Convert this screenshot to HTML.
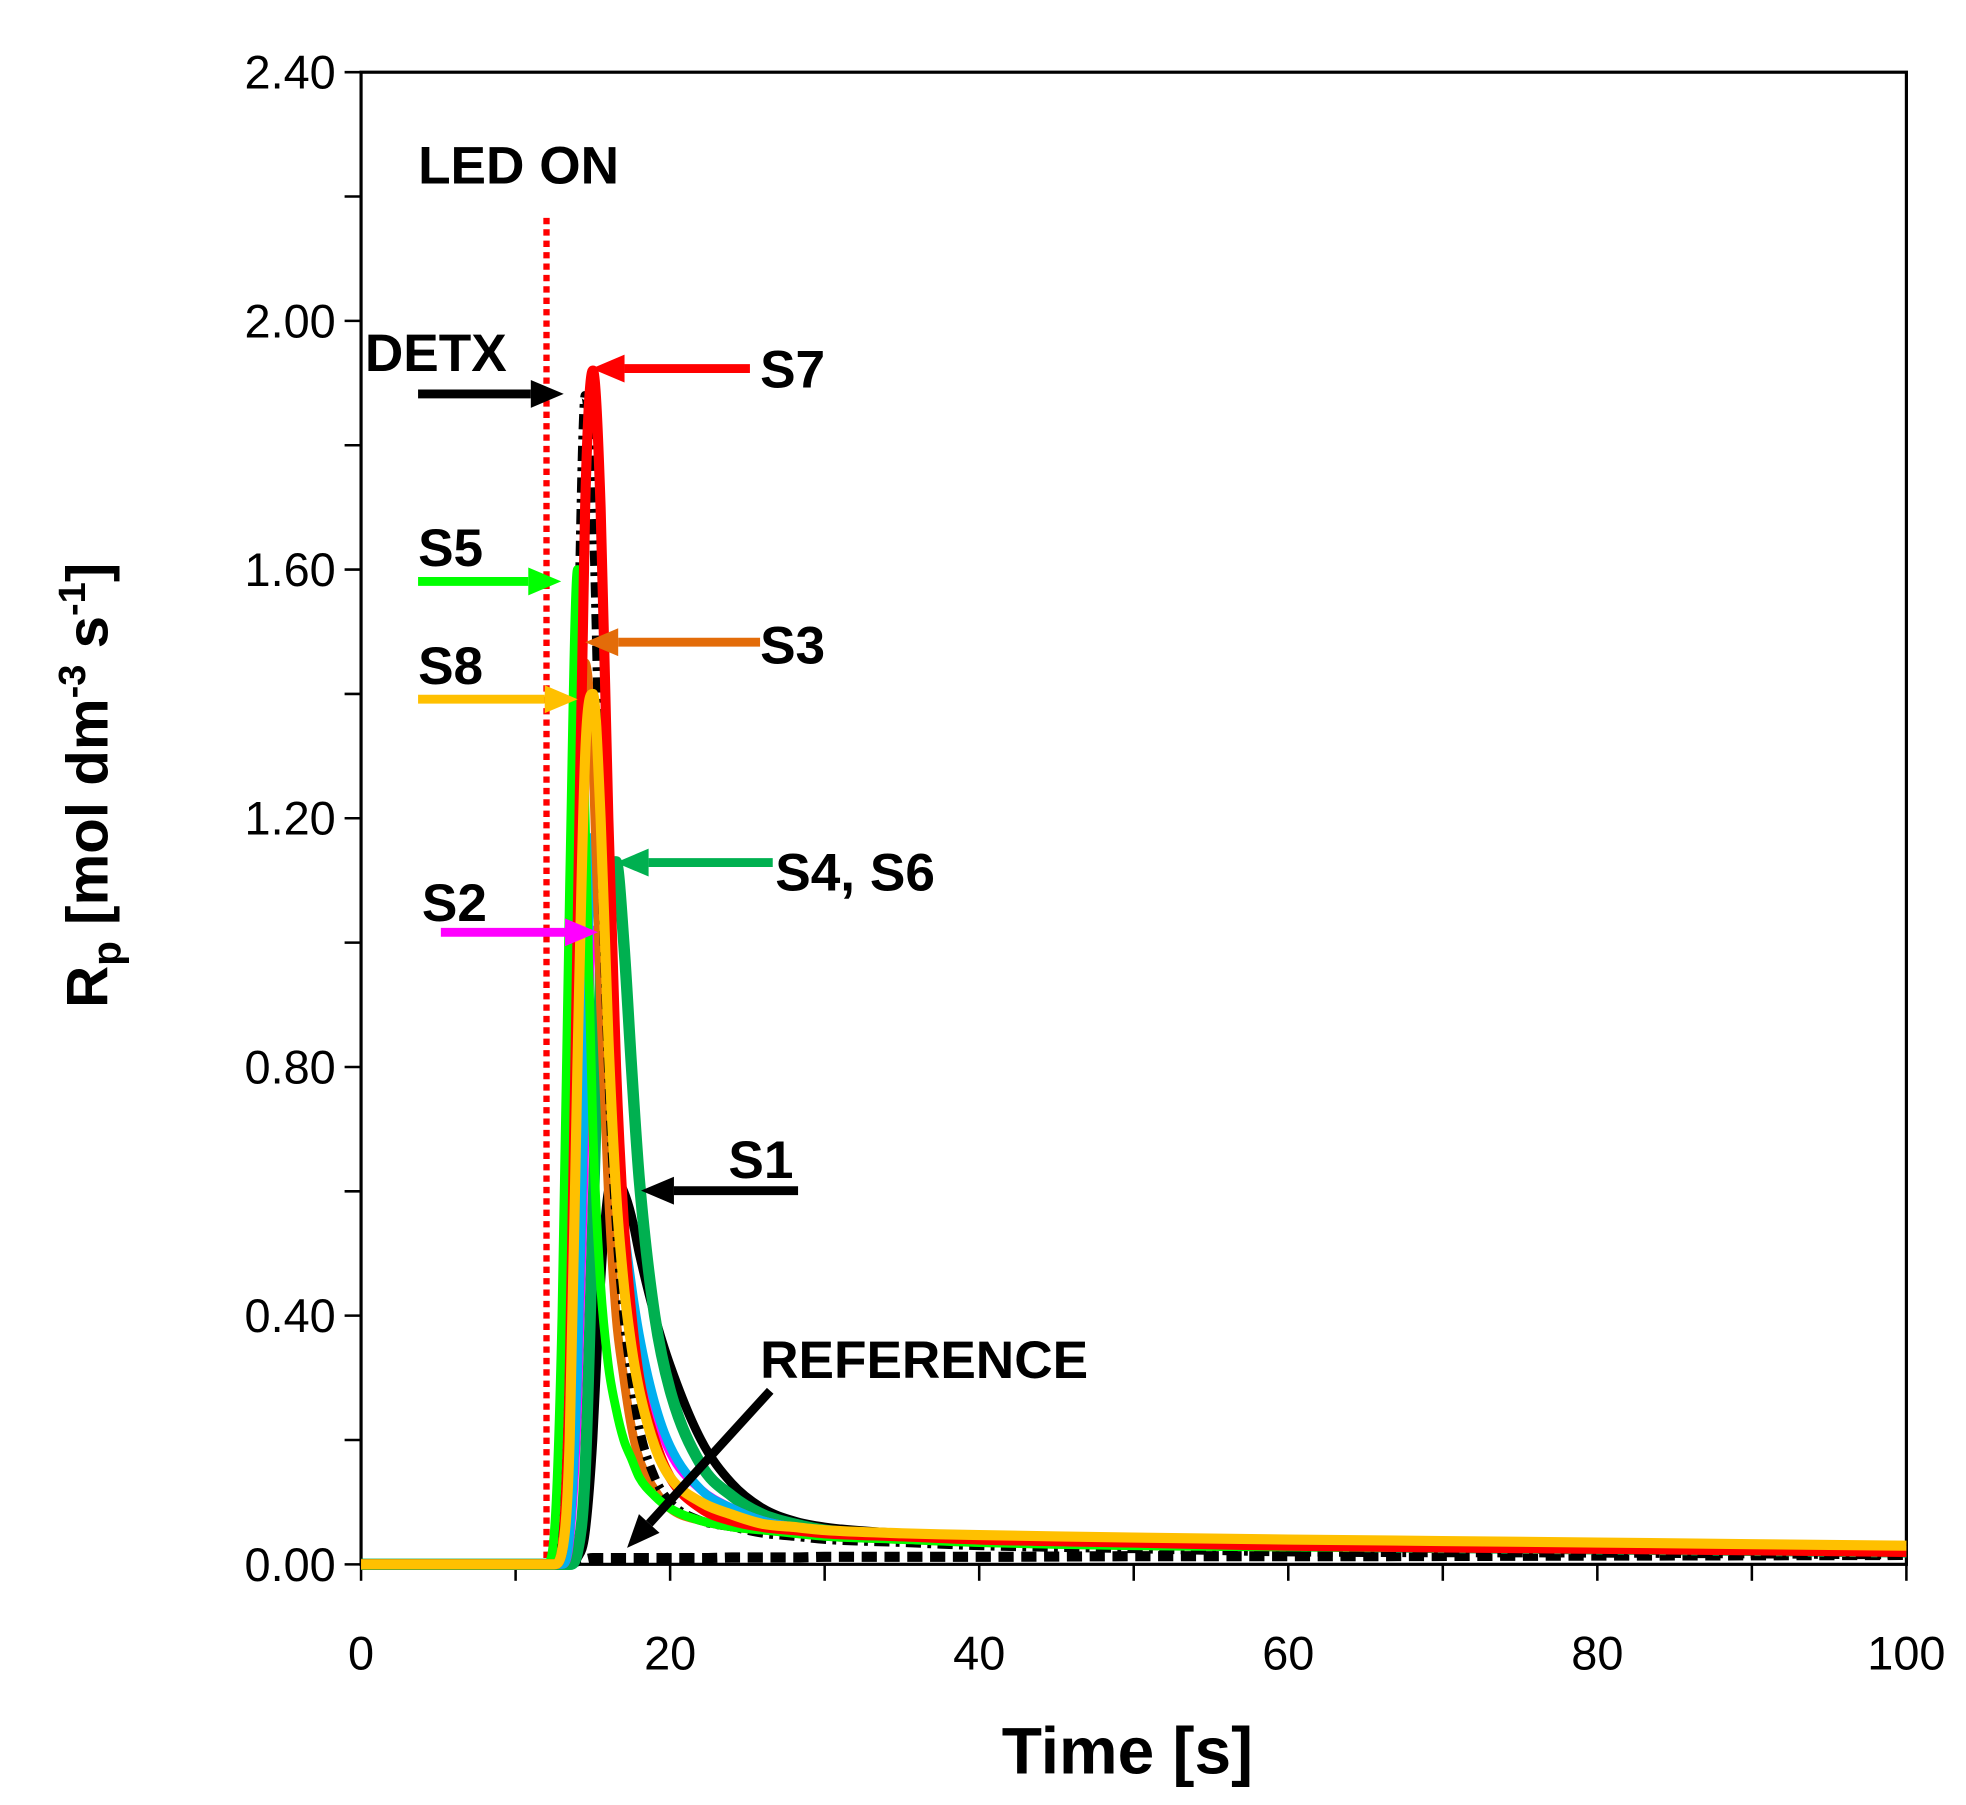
<!DOCTYPE html>
<html><head><meta charset="utf-8"><style>
html,body{margin:0;padding:0;background:#fff}
svg{display:block}
text{font-family:"Liberation Sans",sans-serif}
</style></head><body>
<svg id="chart" width="1966" height="1805" viewBox="0 0 1552 1425" xmlns="http://www.w3.org/2000/svg">
<g id="plot"></g>
</svg>
<script>
const times=[0,12,12.5,13,13.5,14,14.5,15,15.5,16,16.5,17,17.5,18,19,20,22,24,26,28,30,35,40,50,60,80,100];
const sRef=[0,0,0,0,0,0.005,0.008,0.01,0.01,0.01,0.01,0.01,0.01,0.01,0.01,0.01,0.01,0.011,0.011,0.011,0.012,0.012,0.012,0.013,0.013,0.014,0.015];
const sS1=[0,0,0,0,0,0.01,0.05,0.2,0.45,0.6,0.62,0.6,0.56,0.5,0.4,0.32,0.2,0.13,0.09,0.07,0.06,0.05,0.045,0.04,0.035,0.03,0.025];
const sS46=[0,0,0,0,0,0.02,0.15,0.55,0.95,1.12,1.13,1.0,0.8,0.62,0.4,0.28,0.16,0.11,0.08,0.065,0.055,0.045,0.04,0.035,0.03,0.025,0.02];
const sS2=[0,0,0,0,0.04,0.25,0.7,1.02,1.0,0.85,0.68,0.54,0.44,0.36,0.25,0.18,0.12,0.09,0.07,0.06,0.055,0.045,0.04,0.035,0.03,0.025,0.02];
const sCyan=[0,0,0,0,0.05,0.3,0.8,1.17,1.1,0.9,0.7,0.55,0.45,0.37,0.26,0.19,0.12,0.09,0.07,0.06,0.055,0.045,0.04,0.035,0.03,0.025,0.02];
const sS3=[0,0,0,0.05,0.4,1.1,1.45,1.3,0.9,0.6,0.4,0.3,0.22,0.17,0.12,0.09,0.07,0.06,0.055,0.05,0.045,0.04,0.035,0.03,0.028,0.025,0.022];
const sDetx=[0,0,0,0.1,0.6,1.4,1.88,1.7,1.2,0.8,0.55,0.4,0.3,0.22,0.14,0.1,0.07,0.06,0.05,0.045,0.04,0.035,0.03,0.025,0.02,0.018,0.015];
const sS5=[0,0,0.05,0.4,1.1,1.6,1.2,0.7,0.45,0.32,0.25,0.2,0.17,0.14,0.11,0.09,0.07,0.06,0.055,0.05,0.045,0.04,0.035,0.03,0.028,0.025,0.02];
const sS7=[0,0,0,0.02,0.3,1.0,1.7,1.92,1.7,1.2,0.8,0.55,0.4,0.3,0.2,0.14,0.09,0.07,0.06,0.055,0.05,0.045,0.04,0.035,0.03,0.025,0.02];
const sS8=[0,0,0,0.02,0.2,0.8,1.3,1.40,1.2,0.85,0.6,0.45,0.35,0.28,0.19,0.14,0.1,0.08,0.065,0.06,0.055,0.05,0.047,0.043,0.04,0.035,0.03];
const yTickLabels=["0.00","0.40","0.80","1.20","1.60","2.00","2.40"];
const xTickLabels=["0","20","40","60","80","100"];
const ledOnTime=12;

const L=285,R=1505,T=57,B=1235,XMAX=100,YMAX=2.4;
const xs=v=>L+(v/XMAX)*(R-L);
const ys=v=>B-(v/YMAX)*(B-T);
const NS="http://www.w3.org/2000/svg";
const g=document.getElementById('plot');
function mk(tag,attrs,parent){const e=document.createElementNS(NS,tag);for(const k in attrs)e.setAttribute(k,attrs[k]);(parent||g).appendChild(e);return e;}

let e=mk('rect',{x:L,y:T,width:R-L,height:B-T,fill:'none',stroke:'#000','stroke-width':2.5});


for(let i=0;i<=12;i++){const v=i*0.2;const y=ys(v);
 e=mk('line',{x1:L-13,x2:L,y1:y,y2:y,stroke:'#000','stroke-width':2});
 
 }
yTickLabels.forEach(s=>{e=mk('text',{x:265,y:ys(parseFloat(s))+13,'text-anchor':'end','font-size':37});e.textContent=s;
 
 });
for(let i=0;i<=10;i++){const x=xs(i*10);
 e=mk('line',{x1:x,x2:x,y1:B,y2:B+13,stroke:'#000','stroke-width':2});
 
 }
xTickLabels.forEach(s=>{e=mk('text',{x:xs(parseFloat(s)),y:1318,'text-anchor':'middle','font-size':37});e.textContent=s;
 
 });
e=mk('text',{x:890,y:1400,'text-anchor':'middle','font-size':52,'font-weight':'bold'});e.textContent='Time [s]';


e=mk('text',{x:0,y:0,'text-anchor':'middle','font-size':46,'font-weight':'bold',transform:'translate(85,620) rotate(-90)'});
e.innerHTML='R<tspan font-size="32" dy="10">p</tspan><tspan dy="-10"> [mol dm</tspan><tspan font-size="30" dy="-18">-3</tspan><tspan dy="18"> s</tspan><tspan font-size="30" dy="-18">-1</tspan><tspan dy="18">]</tspan>';



e=mk('line',{x1:xs(ledOnTime),x2:xs(ledOnTime),y1:172,y2:B,stroke:'#ff0000','stroke-width':5,'stroke-dasharray':'5,4'});



// monotone cubic path
function smoothPath(X,Y){
 const n=X.length,d=[],m=new Array(n);
 for(let i=0;i<n-1;i++)d.push((Y[i+1]-Y[i])/(X[i+1]-X[i]));
 m[0]=d[0];m[n-1]=d[n-2];
 for(let i=1;i<n-1;i++){m[i]=(d[i-1]*d[i]<=0)?0:(d[i-1]+d[i])/2;}
 for(let i=0;i<n-1;i++){if(d[i]===0){m[i]=0;m[i+1]=0;continue;}
  const a=m[i]/d[i],b=m[i+1]/d[i],s=a*a+b*b;if(s>9){const t=3/Math.sqrt(s);m[i]=t*a*d[i];m[i+1]=t*b*d[i];}}
 let p='M'+X[0].toFixed(1)+','+Y[0].toFixed(1);
 for(let i=0;i<n-1;i++){const h=(X[i+1]-X[i])/3;
  p+=` C${(X[i]+h).toFixed(1)},${(Y[i]+m[i]*h).toFixed(1)} ${(X[i+1]-h).toFixed(1)},${(Y[i+1]-m[i+1]*h).toFixed(1)} ${X[i+1].toFixed(1)},${Y[i+1].toFixed(1)}`;}
 return p;
}
function series(vals,color,w,dash,name){
 const d=smoothPath(times.map(xs),vals.map(ys));
 const p=mk('path',{d:d,fill:'none',stroke:color,'stroke-width':w,'stroke-linejoin':'round'});
 if(dash)p.setAttribute('stroke-dasharray',dash);
 
 
}
series(sRef,'#000',8,'12,6','series-reference');
series(sS1,'#000',7,null,'series-s1');
series(sS46,'#00b050',9,null,'series-s4-s6');
series(sS2,'#ff00ff',7,null,'series-s2');
series(sCyan,'#00b0f0',7,null,'series-cyan');
series(sS3,'#e36c09',7,null,'series-s3');
series(sDetx,'#000',7,'12,5,3,5','series-detx');
series(sS5,'#00ff00',7,null,'series-s5');
series(sS7,'#ff0000',8,null,'series-s7');
series(sS8,'#ffc000',8,null,'series-s8');

function arrow(x1,y1,x2,y2,color,name){
 const a=Math.atan2(y2-y1,x2-x1),hl=26,hw=11;
 const bx=x2-hl*Math.cos(a),by=y2-hl*Math.sin(a);
 const grp=mk('g',{});
 
 
 mk('line',{x1:x1,y1:y1,x2:bx,y2:by,stroke:color,'stroke-width':7},grp);
 const px=-Math.sin(a)*hw,py=Math.cos(a)*hw;
 mk('polygon',{points:`${x2},${y2} ${bx+px},${by+py} ${bx-px},${by-py}`,fill:color},grp);
}
function label(x,y,s,name){e=mk('text',{x:x,y:y,'font-size':42,'font-weight':'bold'});e.textContent=s;
 
 }
label(330,145,'LED ON','led-on-label');
label(288,293,'DETX','detx-label'); arrow(330,311,445,311,'#000','detx-arrow');
label(600,306,'S7','s7-label'); arrow(592,291,467,291,'#ff0000','s7-arrow');
label(330,447,'S5','s5-label'); arrow(330,459,443,459,'#00ff00','s5-arrow');
label(600,524,'S3','s3-label'); arrow(600,507,462,507,'#e36c09','s3-arrow');
label(330,540,'S8','s8-label'); arrow(330,552,456,552,'#ffc000','s8-arrow');
label(612,703,'S4, S6','s4-s6-label'); arrow(610,681,486,681,'#00b050','s4-s6-arrow');
label(333,727,'S2','s2-label'); arrow(348,736,472,736,'#ff00ff','s2-arrow');
label(575,930,'S1','s1-label'); arrow(630,940,506,940,'#000','s1-arrow');
label(600,1088,'REFERENCE','reference-label'); arrow(608,1098,495,1222,'#000','reference-arrow');
</script>
</body></html>
